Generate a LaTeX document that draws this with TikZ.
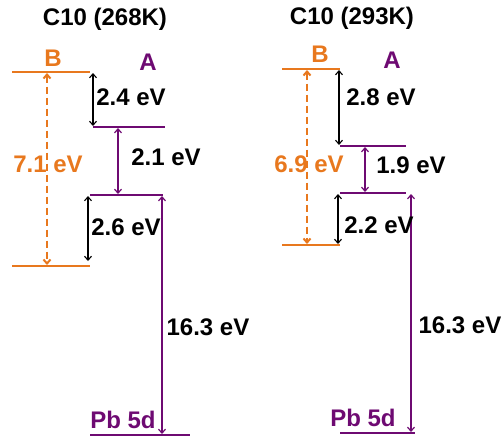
\documentclass[tikz,border=0pt]{standalone}
\usepackage{fontspec}
\setmainfont{Liberation Sans}
\usetikzlibrary{arrows.meta}
\definecolor{lvorange}{HTML}{E8781E}
\definecolor{lvpurple}{HTML}{6E0A72}
\begin{document}
\begin{tikzpicture}[x=1pt,y=-1pt,
  lbl/.style={font=\fontsize{24}{28}\selectfont\bfseries, inner sep=0pt},
  olvl/.style={draw=lvorange, line width=2.2pt},
  plvl/.style={draw=lvpurple, line width=1.8pt},
  tip/.style={{Straight Barb[length=4pt,width=7pt]}-{Straight Barb[length=4pt,width=7pt]}},
  garrow/.style={tip, draw=black, line width=1.1pt},
  parrow/.style={tip, draw=lvpurple, line width=1.2pt},
  oarrow/.style={tip, draw=lvorange, line width=2pt, dash pattern=on 7pt off 4pt}]
\useasboundingbox (0,0) rectangle (503,437);

% ---------- C10 (268K) ----------
\node[lbl] (t1) at (105,19) {C10 (268K)};
\node[lbl, text=lvorange] (b1) at (53,58) {B};
\node[lbl, text=lvpurple] (a1) at (148,62) {A};

\coordinate (bt1l) at (12,72);  \coordinate (bt1r) at (90,72);
\coordinate (bb1l) at (12,266); \coordinate (bb1r) at (90,266);
\coordinate (au1l) at (93,127); \coordinate (au1r) at (165,127);
\coordinate (al1l) at (90,195); \coordinate (al1r) at (163,195);
\coordinate (pb1l) at (90,435); \coordinate (pb1r) at (190,435);
\draw[olvl] (bt1l) -- (bt1r);
\draw[olvl] (bb1l) -- (bb1r);
\draw[plvl] (au1l) -- (au1r);
\draw[plvl] (al1l) -- (al1r);
\draw[plvl] (pb1l) -- (pb1r);

\coordinate (o1t) at (47,73);  \coordinate (o1b) at (47,265);
\coordinate (k1t) at (93,73);  \coordinate (k1b) at (93,126);
\coordinate (p1t) at (118,128); \coordinate (p1b) at (118,194);
\coordinate (k2t) at (88,196); \coordinate (k2b) at (88,261);
\coordinate (p2t) at (162,196); \coordinate (p2b) at (162,434);
\draw[oarrow] (o1t) -- (o1b);
\draw[garrow] (k1t) -- (k1b);
\draw[parrow] (p1t) -- (p1b);
\draw[garrow] (k2t) -- (k2b);
\draw[parrow] (p2t) -- (p2b);

\node[lbl, text=lvorange] (e71) at (48,164) {7.1 eV};
\node[lbl] (e24) at (131,97) {2.4 eV};
\node[lbl] (e21) at (166,157) {2.1 eV};
\node[lbl] (e26) at (126,227) {2.6 eV};
\node[lbl] (e163a) at (208,327) {16.3 eV};
\node[lbl, text=lvpurple] (pbA) at (123,420) {Pb 5d};

% ---------- C10 (293K) ----------
\node[lbl] (t2) at (352,18) {C10 (293K)};
\node[lbl, text=lvorange] (b2) at (320,54) {B};
\node[lbl, text=lvpurple] (a2) at (392,60) {A};

\coordinate (bt2l) at (282,69);  \coordinate (bt2r) at (340,69);
\coordinate (bb2l) at (282,245); \coordinate (bb2r) at (340,245);
\coordinate (au2l) at (340,146); \coordinate (au2r) at (406,146);
\coordinate (al2l) at (340,193); \coordinate (al2r) at (406,193);
\coordinate (pb2l) at (340,433); \coordinate (pb2r) at (415,433);
\draw[olvl] (bt2l) -- (bt2r);
\draw[olvl] (bb2l) -- (bb2r);
\draw[plvl] (au2l) -- (au2r);
\draw[plvl] (al2l) -- (al2r);
\draw[plvl] (pb2l) -- (pb2r);

\coordinate (o2t) at (307,70);  \coordinate (o2b) at (307,244);
\coordinate (k3t) at (339,70);  \coordinate (k3b) at (339,145);
\coordinate (p3t) at (365,147); \coordinate (p3b) at (365,192);
\coordinate (k4t) at (338,194); \coordinate (k4b) at (338,244);
\coordinate (p4t) at (411,194); \coordinate (p4b) at (411,432);
\draw[oarrow] (o2t) -- (o2b);
\draw[garrow] (k3t) -- (k3b);
\draw[parrow] (p3t) -- (p3b);
\draw[garrow] (k4t) -- (k4b);
\draw[parrow] (p4t) -- (p4b);

\node[lbl, text=lvorange] (e69) at (309,164) {6.9 eV};
\node[lbl] (e28) at (381,97) {2.8 eV};
\node[lbl] (e19) at (411,165) {1.9 eV};
\node[lbl] (e22) at (379,225) {2.2 eV};
\node[lbl] (e163b) at (460,325) {16.3 eV};
\node[lbl, text=lvpurple] (pbB) at (363,418) {Pb 5d};
\end{tikzpicture}
\end{document}
